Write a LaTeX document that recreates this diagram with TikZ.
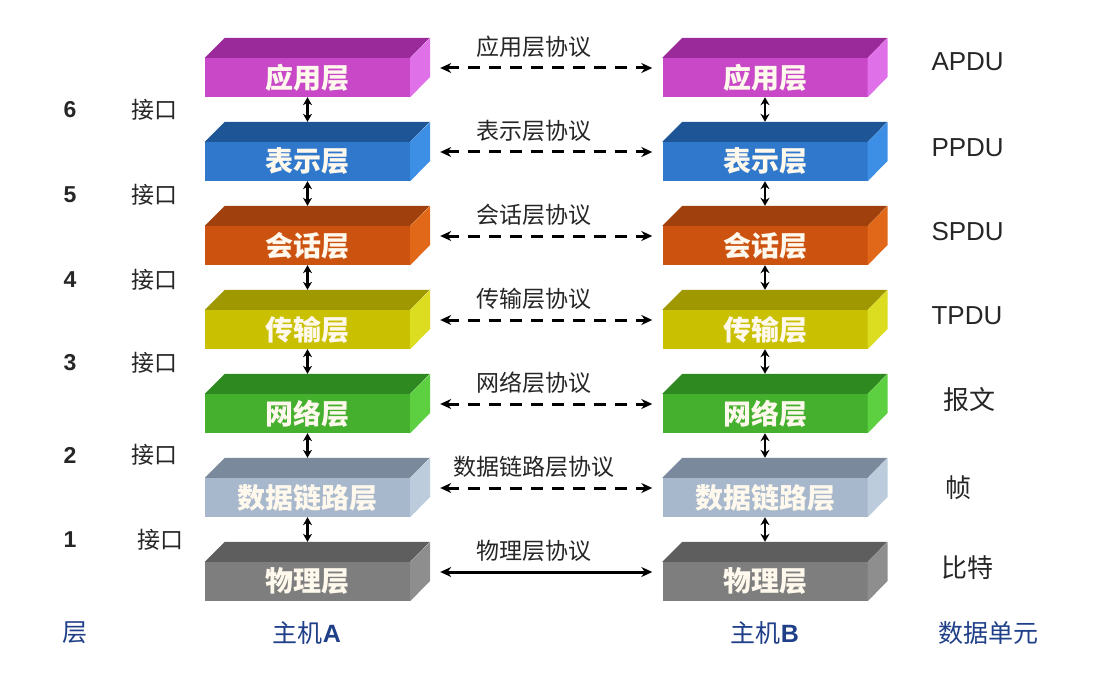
\documentclass[tikz,border=0pt]{standalone}
\usepackage{fontspec}
\setmainfont{Liberation Sans}
\newfontfamily\cjk{Noto Sans CJK SC}
\usetikzlibrary{arrows.meta,calc}
\definecolor{f1}{HTML}{C848C8}\definecolor{t1}{HTML}{9A2A9A}\definecolor{s1}{HTML}{E070E8}
\definecolor{f2}{HTML}{2F78CC}\definecolor{t2}{HTML}{1E5596}\definecolor{s2}{HTML}{3D8FE6}
\definecolor{f3}{HTML}{CC5210}\definecolor{t3}{HTML}{A0400C}\definecolor{s3}{HTML}{E06818}
\definecolor{f4}{HTML}{C8C000}\definecolor{t4}{HTML}{A09800}\definecolor{s4}{HTML}{DCDC20}
\definecolor{f5}{HTML}{44B02E}\definecolor{t5}{HTML}{2E8A20}\definecolor{s5}{HTML}{5CD040}
\definecolor{f6}{HTML}{A8B8CC}\definecolor{t6}{HTML}{7A8A9C}\definecolor{s6}{HTML}{BCCCDC}
\definecolor{f7}{HTML}{7E7E7E}\definecolor{t7}{HTML}{5E5E5E}\definecolor{s7}{HTML}{8E8E8E}
\definecolor{navy}{HTML}{1F3F88}
\definecolor{cream}{HTML}{FFF8EC}
\tikzset{
  front/.style={rectangle, minimum width=205pt, minimum height=39pt, inner sep=0pt,
    text=cream, font=\cjk\bfseries\fontsize{28}{28}\selectfont},
  proto/.style={font=\cjk\fontsize{23}{23}\selectfont, text=black!85},
  harrow/.style={line width=3pt, {Stealth[length=11pt,width=10pt]}-{Stealth[length=11pt,width=10pt]}},
  hdash/.style={harrow, dash pattern=on 12pt off 9pt},
  varrow/.style={line width=2.6pt, {Stealth[length=8pt,width=9pt]}-{Stealth[length=8pt,width=9pt]}},
  numlab/.style={font=\bfseries\fontsize{23}{23}\selectfont, text=black!85},
  iflab/.style={font=\cjk\fontsize{23}{23}\selectfont, text=black!85},
  unitlab/.style={font=\fontsize{26}{26}\selectfont, text=black!85, anchor=west},
  unitcjk/.style={font=\cjk\fontsize{26}{26}\selectfont, text=black!85, anchor=west},
  botlab/.style={font=\cjk\fontsize{25}{25}\selectfont, text=navy},
}
\begin{document}
\begin{tikzpicture}[x=1pt,y=-1pt]
\useasboundingbox (0,0) rectangle (1104,674);
\foreach \i/\lab/\proto/\hs in {1/应用层/应用层协议/hdash,2/表示层/表示层协议/hdash,3/会话层/会话层协议/hdash,4/传输层/传输层协议/hdash,5/网络层/网络层协议/hdash,6/数据链路层/数据链路层协议/hdash,7/物理层/物理层协议/harrow}{
  \pgfmathsetmacro\yc{77.5+84*(\i-1)}
  \foreach \side/\xc in {A/307.5,B/765}{
    \node[front, fill=f\i] (\side\i) at (\xc,\yc) {\raisebox{-4pt}{\lab}};
    \fill[t\i] (\side\i.north west) -- ++(20,-20) -- ++(205,0) -- (\side\i.north east) -- cycle;
    \fill[s\i] (\side\i.north east) -- ++(20,-20) -- ++(0,39) -- (\side\i.south east) -- cycle;
  }
  \node[proto] (P\i) at (534,\yc-31) {\proto};
  \draw[\hs] ($(A\i.east)+(30,-9.5)$) -- ($(B\i.west)+(-10,-9.5)$);
}
\foreach \i in {1,...,6}{
  \pgfmathtruncatemacro\j{\i+1}
  \draw[varrow] (A\i.south) -- ($(A\j.north)+(0,-20)$);
  \draw[varrow] (B\i.south) -- ($(B\j.north)+(0,-20)$);
}
% left labels
\foreach \n/\yy/\xx in {6/110/154,5/195/154,4/280/154,3/363/154,2/455/154,1/540/160}{
  \node[numlab] (N\n) at (70,\yy) {\n};
  \node[iflab] (I\n) at (\xx,\yy) {接口};
}
% right labels
\node[unitlab] (U1) at (928,62) {APDU};
\node[unitlab] (U2) at (928,148) {PPDU};
\node[unitlab] (U3) at (928,232) {SPDU};
\node[unitlab] (U4) at (928,316) {TPDU};
\node[unitcjk] (U5) at (940,400) {报文};
\node[unitcjk] (U6) at (942,488) {帧};
\node[unitcjk] (U7) at (938,568) {比特};
% bottom labels
\node[botlab] (L) at (75,633) {层};
\node[botlab] (HA) at (307,633) {主机{\rmfamily\bfseries A}};
\node[botlab] (HB) at (765,633) {主机{\rmfamily\bfseries B}};
\node[botlab] (DU) at (988,633) {数据单元};
\end{tikzpicture}
\end{document}
